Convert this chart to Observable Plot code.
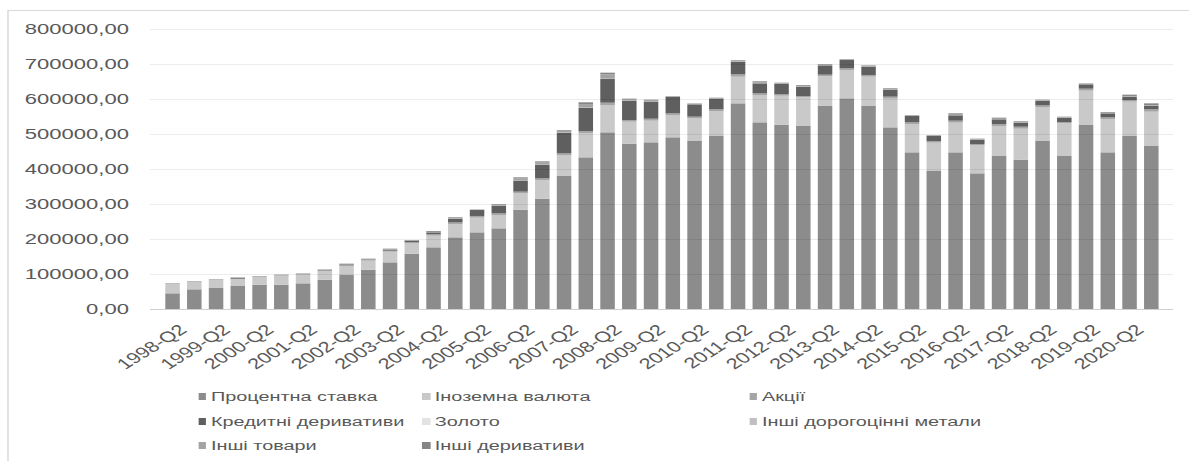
<!DOCTYPE html>
<html>
<head>
<meta charset="utf-8">
<script src="https://cdn.jsdelivr.net/npm/d3@7"></script>
<script src="https://cdn.jsdelivr.net/npm/@observablehq/plot@0.6"></script>
<style>
  html, body { margin: 0; padding: 0; background: #fff; overflow: hidden; }
  #stage { position: absolute; left: 0; top: 0; width: 820px; height: 461px;
           transform: scaleX(1.45); transform-origin: 0 0;
           font-family: "Liberation Sans", Arial, sans-serif; }
  #frame { position: absolute; left: 4.8px; top: 10px; width: 900px; height: 500px;
           border: 1px solid #d9d9d9; box-sizing: border-box; }
  #chart { position: absolute; left: 0; top: 0; }
  #chart svg { overflow: visible; max-width: none; }
  .li { position: absolute; font-size: 13.7px; color: #595959; white-space: nowrap; line-height: 16px; }
  .sw { display: inline-block; width: 5.5px; height: 7px; margin-right: 3.4px; vertical-align: 1px; }
</style>
</head>
<body>
<div id="stage">
  <div id="frame"></div>
  <div id="chart"></div>
  <div id="legend"></div>
</div>
<script>
// Periods (half-years)
const periods = [
  "1998-Q2","1998-Q4","1999-Q2","1999-Q4","2000-Q2","2000-Q4","2001-Q2","2001-Q4",
  "2002-Q2","2002-Q4","2003-Q2","2003-Q4","2004-Q2","2004-Q4","2005-Q2","2005-Q4",
  "2006-Q2","2006-Q4","2007-Q2","2007-Q4","2008-Q2","2008-Q4","2009-Q2","2009-Q4",
  "2010-Q2","2010-Q4","2011-Q2","2011-Q4","2012-Q2","2012-Q4","2013-Q2","2013-Q4",
  "2014-Q2","2014-Q4","2015-Q2","2015-Q4","2016-Q2","2016-Q4","2017-Q2","2017-Q4",
  "2018-Q2","2018-Q4","2019-Q2","2019-Q4","2020-Q2","2020-Q4"
];
const tickLabels = [
  "1998-Q2","1999-Q2","2000-Q2","2001-Q2","2002-Q2","2003-Q2","2004-Q2","2005-Q2",
  "2006-Q2","2007-Q2","2008-Q2","2009-Q2","2010-Q2","2011-Q2","2012-Q2","2013-Q2",
  "2014-Q2","2015-Q2","2016-Q2","2017-Q2","2018-Q2","2019-Q2","2020-Q2"
];
const yTicks = [0,100000,200000,300000,400000,500000,600000,700000,800000];

const seriesNames = [
  "Процентна ставка","Іноземна валюта","Акції",
  "Кредитні деривативи","Золото","Інші дорогоцінні метали",
  "Інші товари","Інші деривативи"
];
const seriesColors = ["#8c8c8c","#c9c9c9","#a5a5a5","#5f5f5f","#e3e3e3","#c0c0c0","#a3a3a3","#858585"];

const interestRate = [44800,56200,60000,65700,69500,69500,73300,83800,97100,112400,
  133300,158100,176200,204800,219000,230500,283800,315200,380000,433300,
  504800,472400,476200,490500,480000,494300,587600,533300,526700,522900,
  580000,601900,580000,519000,447600,394300,447600,387600,437100,426700,
  480000,437100,525700,447600,494300,465700];
const foreignExchange = [26600,20900,21000,19100,21000,24800,24800,24800,25800,25700,
  30500,29500,33300,38100,42000,38100,46700,53400,59000,68600,
  77100,62800,61900,63800,64800,71400,76200,78100,82800,81900,
  85700,81000,83800,82000,81000,80900,84800,80000,85800,88500,
  96200,93400,98100,95300,98100,98100];
const equity = [1300,1500,1600,1800,1900,1900,1900,1900,2200,2300,
  2800,3800,4500,4400,4800,4800,4800,4800,5700,6700,
  7600,4800,5700,4800,4800,4800,6700,4800,3800,3800,
  3800,4800,4800,5700,4800,4800,5700,3800,5700,5700,
  5700,3800,5700,4800,4800,6700];
const credit = [0,0,0,2800,0,0,0,1000,2500,1500,
  3000,3500,5000,10000,17000,22000,31400,39000,59100,66600,
  67600,55200,47600,47600,35200,29500,36200,28600,29600,26600,
  26700,23700,23800,19000,18000,14300,15200,11500,13300,11500,
  13300,12400,12400,11300,9500,9500];
const gold = [300,300,300,300,300,300,300,300,300,300,
  300,300,300,400,300,400,400,500,500,600,
  600,400,400,400,400,400,500,500,400,400,
  400,300,300,300,300,200,300,300,300,300,
  300,300,300,300,300,400];
const otherPrecious = [100,100,100,100,100,100,100,100,100,100,
  100,100,100,100,100,100,100,100,100,200,
  200,100,100,100,100,100,100,100,100,100,
  100,100,100,100,100,100,100,100,100,100,
  100,100,100,100,100,100];
const otherCommodities = [400,300,300,300,300,300,300,300,300,300,
  400,400,1000,1400,1000,2500,6000,6000,5000,8000,
  12500,3800,3500,1100,2000,2500,2800,2300,2500,2100,
  2000,2000,2000,1800,1600,1300,1500,1400,1500,1400,
  1600,1500,1800,1500,1600,2100];
const otherDerivatives = [600,700,1400,400,1200,1200,1200,1100,1200,1200,
  2000,1400,2500,2800,600,1600,3000,2900,2000,6500,
  4800,1500,2700,300,300,800,1300,2800,800,2200,
  1300,500,1400,2600,900,1200,3800,2000,2900,2000,
  900,900,700,2000,3700,5000];

const seriesValues = [interestRate, foreignExchange, equity, credit, gold,
  otherPrecious, otherCommodities, otherDerivatives];

const data = [];
seriesNames.forEach((name, si) => {
  periods.forEach((p, i) => data.push({period: p, series: name, value: seriesValues[si][i]}));
});

const W = 820, H = 380, baseY = 309;
const fmt = d => d.toFixed(2).replace(".", ",");

const chart = Plot.plot({
  width: W, height: H,
  marginLeft: 103.4, marginRight: 11, marginTop: 29, marginBottom: H - baseY,
  style: {fontFamily: "'Liberation Sans', Arial, sans-serif", color: "#595959", background: "transparent", overflow: "visible"},
  x: {type: "band", domain: periods, paddingInner: 0.33, paddingOuter: 0.165, label: null},
  y: {domain: [0, 800000], label: null},
  color: {domain: seriesNames, range: seriesColors},
  marks: [
    Plot.barY(data, {x: "period", y: "value", fill: "series", order: seriesNames}),
    Plot.ruleY(yTicks.slice(1), {stroke: "#000", strokeOpacity: 0.075}),
    Plot.ruleY([0], {stroke: "#d0d0d0"}),
    Plot.axisY({ticks: yTicks, tickSize: 0, tickPadding: 15, tickFormat: fmt, fontSize: 15.2, fill: "#595959", label: null}),
    Plot.axisX({ticks: tickLabels, tickSize: 0, tickPadding: 18, tickRotate: -42, dx: 7, fontSize: 15, fill: "#595959", label: null})
  ]
});
document.getElementById("chart").appendChild(chart);

// Legend (HTML, below the SVG)
const legend = document.getElementById("legend");
const colX = [136.6, 291, 516.6];
const rowY = [397, 422, 446];
seriesNames.forEach((name, i) => {
  const c = i % 3, r = Math.floor(i / 3);
  const d = document.createElement("div");
  d.className = "li";
  d.style.left = colX[c] + "px";
  d.style.top = (rowY[r] - 8) + "px";
  const s = document.createElement("span");
  s.className = "sw";
  s.style.background = seriesColors[i];
  d.appendChild(s);
  d.appendChild(document.createTextNode(name));
  legend.appendChild(d);
});
</script>
</body>
</html>
